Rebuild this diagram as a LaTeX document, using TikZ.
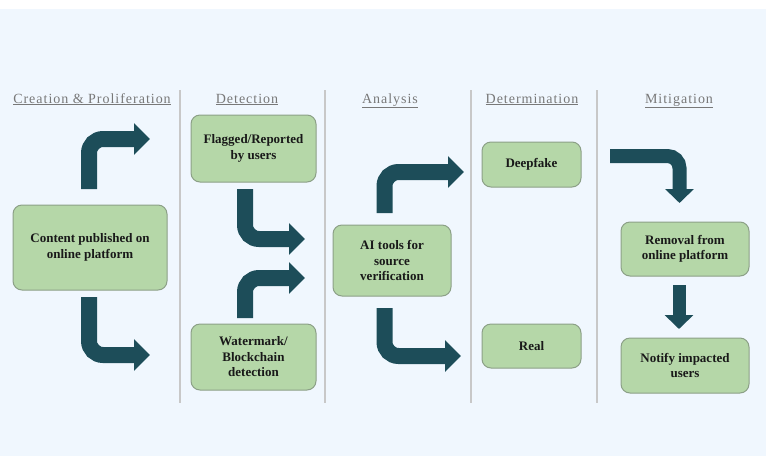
\documentclass[tikz,border=0pt]{standalone}
\usepackage{fontspec}
\setmainfont{Liberation Serif}
\usepackage{tikz}
\usetikzlibrary{arrows.meta, positioning}
\definecolor{pagebg}{RGB}{240,247,254}
\definecolor{boxfill}{RGB}{181,215,168}
\definecolor{boxline}{RGB}{140,160,135}
\definecolor{arrowteal}{RGB}{29,77,89}
\definecolor{headgray}{RGB}{120,120,120}
\definecolor{sepgray}{RGB}{200,200,200}

\begin{document}
\begin{tikzpicture}[x=1pt, y=-1pt,
  box/.style={rectangle, rounded corners=9pt, draw=boxline, line width=1pt, fill=boxfill, text=black!90, font=\fontsize{13}{15.5}\selectfont\bfseries, align=center, inner sep=0pt},
  head/.style={text=headgray, font=\fontsize{14}{16}\selectfont\addfontfeatures{LetterSpace=7}, inner sep=0pt, anchor=base},
  sep/.style={draw=sepgray, line width=1.3pt},
  bentarr/.style={draw=arrowteal, line width=16pt, rounded corners=14pt, -{Triangle[length=16pt, width=31pt]}},
  smallarr/.style={draw=arrowteal, line width=13pt, rounded corners=12pt, -{Triangle[length=14pt, width=28pt]}}
]
\useasboundingbox (0,0) rectangle (766,456);
\fill[white] (0,0) rectangle (766,9);
\fill[pagebg] (0,9) rectangle (766,456);

% column separators
\foreach \sx in {180, 325, 471, 597}
  \draw[sep] (\sx,90) -- (\sx,403);

% column headings
\node[head] (hcre) at (92,103) {\underline{Creation \& Proliferation}};
\node[head] (hdet) at (247,103) {\underline{Detection}};
\node[head] (hana) at (390,103) {\underline{Analysis}};
\node[head] (hdtm) at (532,103) {\underline{Determination}};
\node[head] (hmit) at (679,103) {\underline{Mitigation}};

% boxes
\node[box, minimum width=154pt, minimum height=85pt] (content) at (90,247.5) {Content published on\\online platform};
\node[box, minimum width=125pt, minimum height=67pt] (flagged) at (253.5,148.5) {Flagged/Reported\\by users};
\node[box, minimum width=125pt, minimum height=66pt] (watermark) at (253.5,357) {Watermark/\\Blockchain\\detection};
\node[box, minimum width=118pt, minimum height=71pt] (aitools) at (392,260.5) {AI tools for\\source\\verification};
\node[box, minimum width=99pt, minimum height=45pt] (deepfake) at (531.5,164.5) {Deepfake};
\node[box, minimum width=99pt, minimum height=44pt] (real) at (531.5,346) {Real};
\node[box, minimum width=128pt, minimum height=54pt] (removal) at (685,249) {Removal from\\online platform};
\node[box, minimum width=128pt, minimum height=55pt] (notify) at (685,365.5) {Notify impacted\\users};

% arrow ends
\coordinate (c1s) at (89,189);
\coordinate (c1e) at (150,139);
\coordinate (c2s) at (89,297);
\coordinate (c2e) at (150,355);
\coordinate (d1s) at (245,189);
\coordinate (d1e) at (305,239);
\coordinate (d2s) at (245,318);
\coordinate (d2e) at (305,278);
\coordinate (a1s) at (384.5,213);
\coordinate (a1e) at (464,172);
\coordinate (a2s) at (384.5,308);
\coordinate (a2e) at (461,356);
\coordinate (m1s) at (610,156);
\coordinate (m1e) at (679.5,203);
\coordinate (m2s) at (679,285);
\coordinate (m2e) at (679,329);

\draw[bentarr] (c1s) |- (c1e);
\draw[bentarr] (c2s) |- (c2e);
\draw[bentarr] (d1s) |- (d1e);
\draw[bentarr] (d2s) |- (d2e);
\draw[bentarr] (a1s) |- (a1e);
\draw[bentarr] (a2s) |- (a2e);
\draw[smallarr, line width=14pt] (m1s) -| (m1e);
\draw[smallarr] (m2s) -- (m2e);
\end{tikzpicture}
\end{document}
